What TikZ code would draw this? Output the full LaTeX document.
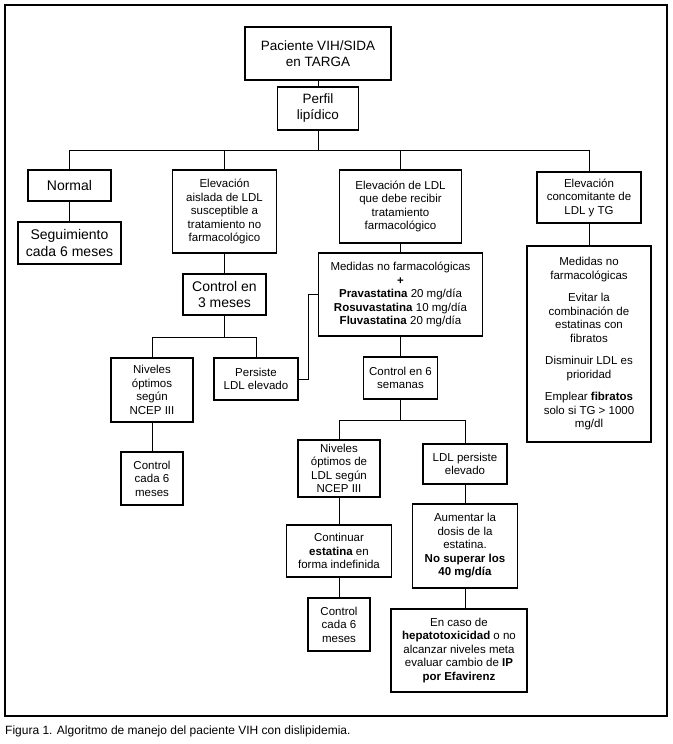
\documentclass[tikz,border=0pt]{standalone}
\usepackage{fontspec}
\setmainfont{Liberation Sans}
\begin{document}
\begin{tikzpicture}[x=1pt,y=-1pt,
  bx/.style n args={2}{draw, line width=1.2pt, align=center, inner sep=0pt, minimum width=#1, minimum height=#2},
  big/.style={font=\fontsize{14}{16.5}\selectfont},
  med/.style={font=\fontsize{13.5}{16}\selectfont},
  sm/.style={font=\fontsize{11.5}{13.5}\selectfont},
  ln/.style={line width=0.9pt}]
\useasboundingbox (0,0) rectangle (672,744);
\draw[line width=1.2pt] (5,5) rectangle (667,716);
\node[anchor=base west, inner sep=0pt, font=\fontsize{12}{14}\selectfont] (cap) at (5,734) {Figura 1. Algoritmo de manejo del paciente VIH con dislipidemia.};

\node[bx={146pt}{53pt}, med] (top) at (318,53.5) {Paciente VIH/SIDA\\en TARGA};
\node[bx={81pt}{43pt}, med] (perfil) at (318,108.5) {Perfil\\lipídico};
\node[bx={83pt}{31pt}, big] (normal) at (69.5,185.5) {Normal};
\node[bx={103pt}{42pt}, big] (seg) at (69.5,243) {Seguimiento\\cada 6 meses};
\node[bx={104pt}{83pt}, sm] (aislada) at (224.5,211.5) {Elevación\\aislada de LDL\\susceptible a\\tratamiento no\\farmacológico};
\node[bx={83pt}{41pt}, big] (c3) at (224.5,294.5) {Control en\\3 meses};
\node[bx={82pt}{64pt}, sm] (niv1) at (152,390) {Niveles\\óptimos\\según\\NCEP III};
\node[bx={84pt}{42pt}, sm] (pers) at (256,379) {Persiste\\LDL elevado};
\node[bx={62pt}{53pt}, sm] (cc1) at (152,478.5) {Control\\cada 6\\meses};
\node[bx={122pt}{73pt}, sm] (debe) at (400.5,206.5) {Elevación de LDL\\que debe recibir\\tratamiento\\farmacológico};
\node[bx={164pt}{83pt}, sm] (medi) at (400.5,294.5) {Medidas no farmacológicas\\\textbf{+}\\\textbf{Pravastatina} 20 mg/día\\\textbf{Rosuvastatina} 10 mg/día\\\textbf{Fluvastatina} 20 mg/día};
\node[bx={74pt}{42pt}, sm] (c6) at (400.5,378) {Control en 6\\semanas};
\node[bx={82pt}{57pt}, sm] (niv2) at (339,468.5) {Niveles\\óptimos de\\LDL según\\NCEP III};
\node[bx={84pt}{40pt}, sm] (lpe) at (465,464) {LDL persiste\\elevado};
\node[bx={105pt}{52pt}, sm] (cont) at (339,551) {Continuar\\\textbf{estatina} en\\forma indefinida};
\node[bx={105pt}{84pt}, sm] (aum) at (465,546) {Aumentar la\\dosis de la\\estatina.\\\textbf{No superar los}\\\textbf{40 mg/día}};
\node[bx={62pt}{53pt}, sm] (cc2) at (339,624.5) {Control\\cada 6\\meses};
\node[bx={136pt}{83pt}, sm] (caso) at (459,650.5) {En caso de\\\textbf{hepatotoxicidad} o no\\alcanzar niveles meta\\evaluar cambio de \textbf{IP}\\\textbf{por Efavirenz}};
\node[bx={104pt}{51pt}, sm] (conc) at (589,197.5) {Elevación\\concomitante de\\LDL y TG};
\node[bx={124pt}{196pt}, sm] (medr) at (589,344) {Medidas no\\farmacológicas\\[9pt]Evitar la\\combinación de\\estatinas con\\fibratos\\[9pt]Disminuir LDL es\\prioridad\\[9pt]Emplear \textbf{fibratos}\\solo si TG > 1000\\mg/dl};

\coordinate (bus) at (318,150);
\coordinate (b2) at (224.5,337);
\coordinate (b3) at (400.5,420);
\draw[ln] (top) -- (perfil);
\draw[ln] (perfil) -- (bus);
\draw[ln] (normal.north) |- (bus);
\draw[ln] (aislada.north) |- (bus);
\draw[ln] (debe.north) |- (bus);
\draw[ln] (conc.north) |- (bus);
\draw[ln] (normal) -- (seg);
\draw[ln] (aislada) -- (c3);
\draw[ln] (c3) -- (b2);
\draw[ln] (niv1.north) |- (b2);
\draw[ln] (pers.north) |- (b2);
\draw[ln] (niv1) -- (cc1);
\draw[ln] (pers.east) -- ++(10,0) |- (medi.west);
\draw[ln] (debe) -- (medi);
\draw[ln] (medi) -- (c6);
\draw[ln] (c6) -- (b3);
\draw[ln] (niv2.north) |- (b3);
\draw[ln] (lpe.north) |- (b3);
\draw[ln] (niv2) -- (cont);
\draw[ln] (cont) -- (cc2);
\draw[ln] (lpe) -- (aum);
\draw[ln] (aum.south) -- (aum.south |- caso.north);
\draw[ln] (conc) -- (medr);
\end{tikzpicture}
\end{document}
